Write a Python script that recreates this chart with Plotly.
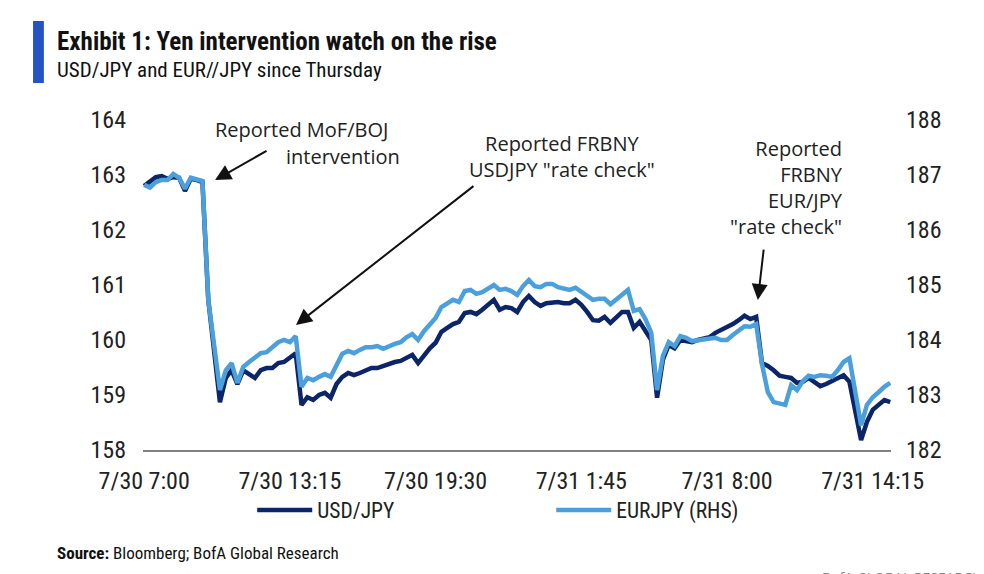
import pandas as pd
import plotly.graph_objects as go

# 15-minute prints, 7/30 07:00 -> 7/31 15:00
times = pd.date_range("2024-07-30 07:00", periods=129, freq="15min")

usdjpy = [
    162.80, 162.87, 162.96, 162.98, 162.93, 162.96, 162.95, 162.71, 162.93, 162.91,
    162.87, 160.73, 159.82, 158.87, 159.31, 159.45, 159.20, 159.45, 159.38, 159.31,
    159.45, 159.49, 159.49, 159.58, 159.60, 159.69, 159.76, 158.82, 158.96, 158.91,
    159.00, 159.04, 158.95, 159.20, 159.33, 159.40, 159.36, 159.40, 159.45, 159.49,
    159.49, 159.53, 159.56, 159.60, 159.62, 159.67, 159.73, 159.58, 159.73, 159.85,
    159.95, 160.15, 160.22, 160.29, 160.33, 160.49, 160.51, 160.47, 160.55, 160.64,
    160.73, 160.55, 160.60, 160.58, 160.51, 160.69, 160.80, 160.69, 160.62, 160.67,
    160.69, 160.69, 160.67, 160.67, 160.73, 160.64, 160.51, 160.36, 160.35, 160.42,
    160.31, 160.42, 160.51, 160.51, 160.22, 160.33, 160.16, 160.00, 158.95, 159.64,
    159.91, 159.85, 160.00, 159.98, 159.96, 160.00, 160.02, 160.05, 160.13, 160.18,
    160.22, 160.29, 160.36, 160.44, 160.38, 160.42, 159.58, 159.53, 159.45, 159.35,
    159.33, 159.31, 159.22, 159.24, 159.31, 159.24, 159.16, 159.20, 159.25, 159.31,
    159.36, 159.24, 158.73, 158.18, 158.51, 158.73, 158.82, 158.91, 158.87,
]

eurjpy = [
    186.82, 186.77, 186.87, 186.91, 186.91, 187.02, 186.95, 186.75, 186.95, 186.91,
    186.89, 184.73, 183.91, 183.09, 183.45, 183.58, 183.22, 183.51, 183.60, 183.69,
    183.76, 183.78, 183.87, 183.96, 184.00, 183.96, 184.07, 183.15, 183.31, 183.27,
    183.33, 183.38, 183.33, 183.56, 183.75, 183.80, 183.76, 183.82, 183.87, 183.87,
    183.89, 183.84, 183.89, 183.93, 183.96, 184.05, 184.11, 184.00, 184.16, 184.29,
    184.40, 184.60, 184.67, 184.73, 184.69, 184.89, 184.91, 184.84, 184.87, 184.93,
    185.00, 184.91, 184.93, 184.89, 184.82, 184.98, 185.09, 184.98, 184.96, 185.02,
    185.02, 184.96, 184.93, 184.91, 184.95, 184.87, 184.80, 184.73, 184.75, 184.75,
    184.65, 184.73, 184.82, 184.91, 184.53, 184.56, 184.38, 184.13, 183.09, 183.71,
    183.96, 183.89, 184.07, 184.04, 183.98, 184.00, 184.02, 184.02, 184.04, 184.00,
    184.00, 184.09, 184.18, 184.25, 184.24, 184.29, 183.56, 183.05, 182.87, 182.84,
    182.82, 183.18, 183.09, 183.25, 183.35, 183.33, 183.36, 183.35, 183.33, 183.45,
    183.60, 183.67, 183.00, 182.45, 182.82, 182.96, 183.05, 183.15, 183.22,
]

tick_times = times[::25]
tick_text = ["7/30 7:00", "7/30 13:15", "7/30 19:30", "7/31 1:45", "7/31 8:00", "7/31 14:15"]

NARROW = "Liberation Sans Narrow, Roboto Condensed, DejaVu Sans Condensed, Arial Narrow, sans-serif"
HUMAN = "Open Sans, Noto Sans, sans-serif"
NAVY = "#0c2468"
SKY = "#4ba0dc"

fig = go.Figure()

fig.add_trace(go.Scatter(x=times, y=usdjpy, name="USD/JPY", mode="lines",
                         line=dict(color=NAVY, width=4.5)))
fig.add_trace(go.Scatter(x=times, y=eurjpy, name="EURJPY (RHS)", mode="lines",
                         line=dict(color=SKY, width=4.5), yaxis="y2"))

# page body adds an 8px offset, so the figure is sized 976x566
fig.update_layout(
    width=976, height=566,
    margin=dict(l=135, r=93, t=112, b=124),
    paper_bgcolor="white", plot_bgcolor="white",
    font=dict(family=NARROW, size=24, color="#222222"),
    showlegend=True,
    legend=dict(orientation="h", x=0.146, y=-0.182, xanchor="left", yanchor="middle",
                font=dict(family=NARROW, size=21.5, color="#222222"),
                entrywidth=229, entrywidthmode="pixels", itemwidth=55,
                bgcolor="rgba(0,0,0,0)"),
    xaxis=dict(
        range=[times[0] - pd.Timedelta(minutes=3), times[-1] + pd.Timedelta(minutes=2)],
        tickmode="array", tickvals=tick_times, ticktext=tick_text,
        showgrid=False, zeroline=False,
        showline=True, linecolor="#808080", linewidth=2,
        ticks="", ticklabelstandoff=8,
    ),
    yaxis=dict(
        range=[158, 164], dtick=1, showgrid=False, zeroline=False,
        showline=False, ticks="", ticklabelstandoff=16,
    ),
    yaxis2=dict(
        range=[182, 188], dtick=1, overlaying="y", side="right",
        showgrid=False, zeroline=False, showline=False, ticks="",
        ticklabelstandoff=14,
    ),
)

# header bar, title, subtitle
fig.add_shape(type="rect", xref="paper", yref="paper",
              x0=-0.147, x1=-0.1325, y0=1.112, y1=1.30,
              fillcolor="#2453c4", line=dict(width=0))
fig.add_annotation(text="<b>Exhibit 1: Yen intervention watch on the rise</b>",
                   xref="paper", yref="paper", x=-0.118, y=1.239,
                   xanchor="left", yanchor="middle", showarrow=False,
                   font=dict(family=NARROW, size=25, color="#111111"))
fig.add_annotation(text="USD/JPY and EUR//JPY since Thursday",
                   xref="paper", yref="paper", x=-0.118, y=1.152,
                   xanchor="left", yanchor="middle", showarrow=False,
                   font=dict(family=NARROW, size=21, color="#111111"))

# callouts
def note(text, x, y, xanchor="center", align="center"):
    fig.add_annotation(text=text, xref="paper", yref="paper", x=x, y=y,
                       xanchor=xanchor, yanchor="middle", align=align,
                       showarrow=False, font=dict(family=HUMAN, size=20, color="#222222"))

note("Reported MoF/BOJ", 0.212, 0.97)
note("intervention", 0.267, 0.888)
note("Reported FRBNY<br>USDJPY \"rate check\"", 0.560, 0.889)
note("Reported<br>FRBNY<br>EUR/JPY<br>\"rate check\"", 0.9385, 0.795, xanchor="right", align="right")

def arrow(x, y, ax, ay):
    fig.add_annotation(text="", xref="paper", yref="paper", x=x, y=y, ax=ax, ay=ay,
                       showarrow=True, arrowhead=2, arrowsize=1.6, arrowwidth=2,
                       arrowcolor="#111111")

arrow(0.0963, 0.818, 53, -30)
arrow(0.2045, 0.379, 179, -140)
arrow(0.822, 0.4545, 6, -52)

# footer
fig.add_annotation(text="<b>Source:</b> Bloomberg; BofA Global Research",
                   xref="paper", yref="paper", x=-0.118, y=-0.312,
                   xanchor="left", yanchor="middle", showarrow=False,
                   font=dict(family=NARROW, size=17, color="#111111"))
fig.add_annotation(text="BofA GLOBAL RESEARCH",
                   xref="paper", yref="paper", x=1.124, y=-0.352,
                   xanchor="right", yanchor="top", showarrow=False,
                   font=dict(family=HUMAN, size=14, color="#888888"))

fig.write_html("out.html")
